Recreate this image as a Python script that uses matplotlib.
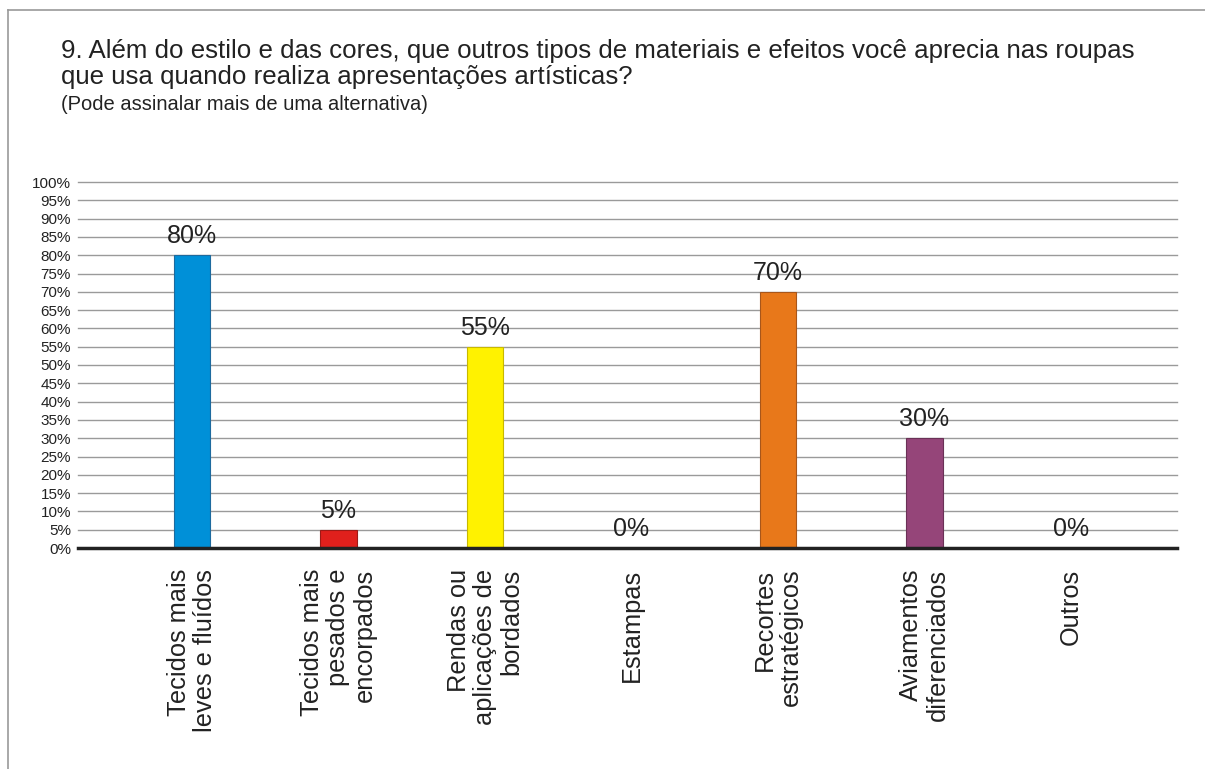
import matplotlib
matplotlib.use("Agg")
import matplotlib.pyplot as plt

plt.rcParams['font.family'] = ['Liberation Sans', 'DejaVu Sans']

categories = [
    "Tecidos mais\nleves e fluídos",
    "Tecidos mais\npesados e\nencorpados",
    "Rendas ou\naplicações de\nbordados",
    "Estampas",
    "Recortes\nestratégicos",
    "Aviamentos\ndiferenciados",
    "Outros",
]
values = [80, 5, 55, 0, 70, 30, 0]
colors = ["#0090d8", "#e0201c", "#fff200", "#0090d8", "#e8781a", "#954579", "#0090d8"]
edge_colors = ["#1d6a9e", "#9c1a16", "#c8b800", "#1d6a9e", "#a8561a", "#6a3156", "#1d6a9e"]
yticks = list(range(0, 101, 5))
ytick_labels = [f"{v}%" for v in yticks]

title_line1 = "9. Além do estilo e das cores, que outros tipos de materiais e efeitos você aprecia nas roupas"
title_line2 = "que usa quando realiza apresentações artísticas?"
subtitle = "(Pode assinalar mais de uma alternativa)"

fig = plt.figure(figsize=(12.05, 7.69), dpi=100)
fig.patch.set_facecolor("white")

# outer frame (open at right and bottom)
fig.add_artist(plt.Line2D([8 / 1205, 8 / 1205], [0, 1 - 10 / 769],
                          transform=fig.transFigure, color="#999999", lw=1.2))
fig.add_artist(plt.Line2D([8 / 1205, 1], [1 - 10 / 769, 1 - 10 / 769],
                          transform=fig.transFigure, color="#999999", lw=1.2))

fig.text(61 / 1205, 1 - 58 / 769, title_line1, fontsize=18.6, color="#222222",
         ha="left", va="baseline")
fig.text(61 / 1205, 1 - 84 / 769, title_line2, fontsize=18.6, color="#222222",
         ha="left", va="baseline")
fig.text(61 / 1205, 1 - 110 / 769, subtitle, fontsize=14.5, color="#222222",
         ha="left", va="baseline")

left, right = 78 / 1205, 1177 / 1205
bottom, top = 1 - 548 / 769, 1 - 182 / 769
ax = fig.add_axes([left, bottom, right - left, top - bottom])
ax.set_facecolor("none")

x = list(range(len(categories)))
ax.bar(x, values, width=0.25, color=colors, edgecolor=edge_colors, linewidth=0.8, zorder=3)

ax.set_xlim(-0.778, 6.724)
ax.set_ylim(0, 100)
ax.set_yticks(yticks)
ax.set_yticklabels(ytick_labels, fontsize=11, color="#222222")
ax.tick_params(axis="y", length=0, pad=5)
ax.set_xticks([])
for v in yticks[1:]:
    ax.axhline(v, color="#9a9a9a", lw=1.0, zorder=1, clip_on=False)
ax.axhline(0, color="#222222", lw=2.5, zorder=4, clip_on=False)
for s in ax.spines.values():
    s.set_visible(False)

for xi, v in zip(x, values):
    ax.annotate(f"{v}%", (xi, v), xytext=(0, 5), textcoords="offset points",
                ha="center", va="bottom", fontsize=18, color="#222222", zorder=5)

for xi, lab in zip(x, categories):
    ax.annotate(lab, (xi, 0), xytext=(0, -15), textcoords="offset points",
                ha="center", va="top", rotation=90, multialignment="right",
                fontsize=18.3, color="#222222", linespacing=1.12)

fig.savefig("out.png", dpi=100)
